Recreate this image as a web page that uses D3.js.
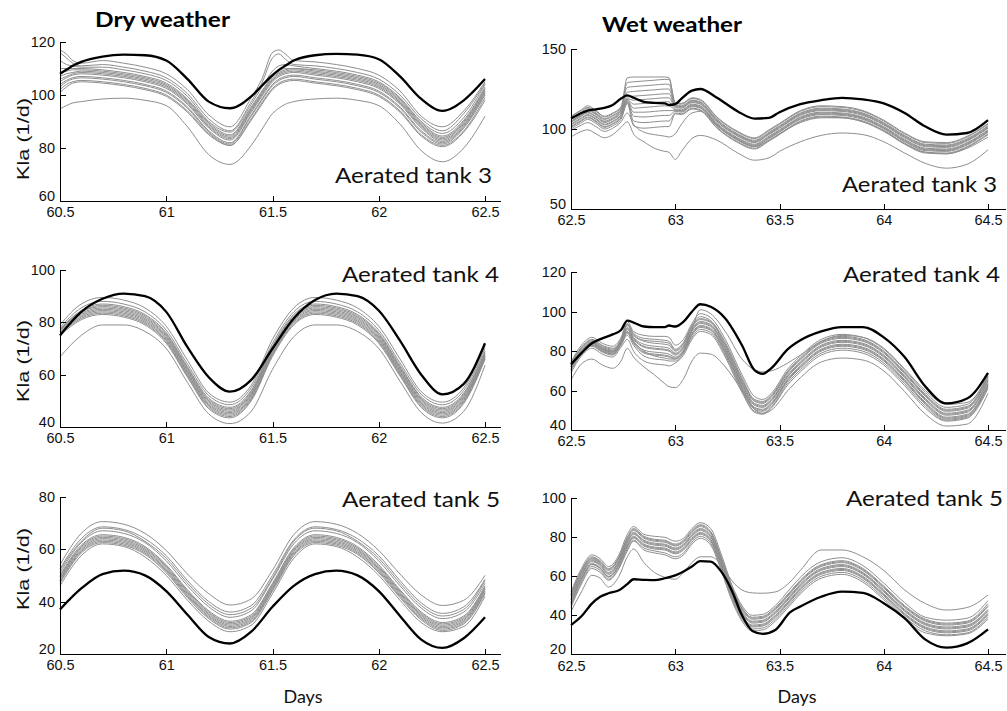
<!DOCTYPE html>
<html>
<head>
<meta charset="utf-8">
<script src="https://cdnjs.cloudflare.com/ajax/libs/d3/7.8.5/d3.min.js"></script>
<style>
body { margin: 0; background: #fff; }
</style>
</head>
<body>
<div class="chart"></div>
<script>
// ---------- data : days (x) and Kla values (1/d) ----------

// dry weather, x values
var dryT3Days = [60.5, 60.53, 60.56, 60.6, 60.7, 60.8, 60.9, 61.0, 61.1, 61.2, 61.3, 61.4, 61.45, 61.5, 61.53, 61.56, 61.6, 61.7, 61.8, 61.9, 62.0, 62.1, 62.2, 62.3, 62.4, 62.5];
var dryDays = [60.5, 60.6, 60.7, 60.8, 60.9, 61.0, 61.1, 61.2, 61.3, 61.4, 61.5, 61.6, 61.7, 61.8, 61.9, 62.0, 62.1, 62.2, 62.3, 62.4, 62.5];

// dry weather, tank 3
var dryT3Measured = [108, 109.5, 111, 112.5, 114.5, 115.2, 115, 113, 106, 97.5, 95, 99.5, 103.5, 107.5, 109.5, 111, 113, 115, 115.5, 115.2, 113.5, 107, 98.5, 94, 98, 106];
var dryT3Sim = [
  [117, 115.5, 113, 112, 113, 112, 110.5, 108, 102, 92.5, 88, 99, 106, 116, 117, 115.5, 113, 112.5, 111.5, 110, 107.5, 101.5, 92, 88, 94, 105],
  [116, 114, 112, 111, 111.5, 110.5, 109, 106.5, 100.5, 91, 86.5, 97.5, 104.5, 114, 115.5, 113.5, 111.5, 111, 110, 108.5, 106, 100, 91, 86.5, 93, 104.5],
  [113, 111.5, 111, 110.5, 110.5, 109.5, 108, 105.5, 99.5, 90, 86, 96.5, 103, 109, 111, 111.5, 111, 110, 109, 107.5, 105, 99, 90, 85.5, 91.5, 104],
  [110, 110, 110, 110, 109.5, 108.5, 107, 104.5, 98.5, 89.5, 85, 95.5, 101.5, 107, 109, 110, 110, 109.5, 108.5, 107, 104.5, 98.5, 89.5, 84.5, 90.5, 103],
  [108.5, 109, 109.5, 109.5, 109, 108, 106.5, 104, 98, 89, 84.5, 95, 101, 106.5, 108.5, 109.5, 110, 109, 108, 106.5, 104, 98, 89, 84, 90, 102.5],
  [107, 108, 108.5, 109, 108.5, 107.5, 106, 103.5, 97.5, 88.5, 84, 94.5, 100.5, 106, 108, 109, 109.5, 108.5, 107.5, 106, 103.5, 97.5, 88.5, 83.5, 89.5, 102],
  [106, 107, 108, 108.5, 108, 107, 105.5, 103, 97, 88, 83.5, 94, 100, 105.5, 107.5, 108.5, 109, 108, 107, 105.5, 103, 97, 88, 83, 89, 101.5],
  [105, 106.5, 107.5, 108, 107.5, 106.5, 105, 102.5, 96.5, 87.5, 83, 93.5, 99.5, 105, 107, 108, 108.5, 107.5, 106.5, 105, 102.5, 96.5, 87.5, 82.5, 88.5, 101],
  [104, 105.5, 106.5, 107, 106.5, 105.5, 104, 101.5, 95.5, 86.5, 82, 92.5, 98.5, 104, 106, 107, 107.5, 106.5, 105.5, 104, 101.5, 95.5, 86.5, 82, 88, 100.5],
  [103, 105, 106, 106.5, 106, 105, 103.5, 101, 95, 86, 81.5, 92, 98, 103.5, 105.5, 106.5, 107, 106, 105, 103.5, 101, 95, 86, 81.5, 87.5, 100],
  [102, 104, 105, 105.5, 105, 104, 102.5, 100, 94, 85.5, 81, 91, 97, 102.5, 104.5, 105.5, 106, 105, 104, 102.5, 100, 94, 85, 81, 86.5, 99],
  [101, 103, 104.5, 105, 104.5, 103.5, 102, 99.5, 93.5, 85, 81, 90.5, 96.5, 102, 104, 105, 105.5, 104.5, 103.5, 102, 99.5, 93.5, 84.5, 80.5, 86, 98],
  [94.7, 96, 97, 97.5, 98.5, 98.8, 98, 96, 88, 77.5, 73.8, 81, 87, 93, 95, 96.5, 97.5, 98.5, 98.8, 98, 96, 89, 79, 74.8, 80, 92]
];

// dry weather, tank 4
var dryT4Measured = [75, 84, 89, 91, 90, 84, 70.5, 59, 53.5, 58, 70, 81.5, 88.5, 91, 90, 84.5, 73, 60, 52.5, 56.5, 72];
var dryT4Sim = [
  [79, 87, 89.5, 88.5, 85.5, 78.5, 65.5, 53, 49.5, 56, 73.5, 85.5, 89.5, 88.5, 85.5, 78.5, 66, 53.5, 49.5, 55, 71],
  [78, 85.5, 88, 87, 84, 77, 64, 52, 48.5, 55, 72, 84, 88, 87, 84, 77, 64.5, 52.5, 48.5, 54, 70],
  [77.5, 84.5, 87, 86, 83, 76, 63, 51, 47.5, 54, 71, 83, 87, 86, 83, 76, 63.5, 51.5, 47.5, 53, 69],
  [77, 84, 86.5, 85.5, 82.5, 75.5, 62.5, 50.5, 47, 53.5, 70.5, 82.5, 86.5, 85.5, 82.5, 75.5, 63, 51, 47, 52.5, 68.5],
  [77, 84, 86, 85, 82, 75, 62, 50, 46.5, 53, 70, 82, 86, 85, 82, 75, 62.5, 50.5, 46.5, 52, 68],
  [76.5, 83.5, 85.5, 84.5, 81.5, 74.5, 61.5, 49.5, 46, 52.5, 69.5, 81.5, 85.5, 84.5, 81.5, 74.5, 62, 50, 46, 51.5, 67.5],
  [76.5, 83, 85, 84, 81, 74, 61, 49, 45.5, 52, 69, 81, 85, 84, 81, 74, 61.5, 49.5, 45.5, 51, 67],
  [76, 82.5, 84.5, 83.5, 80.5, 73.5, 60.5, 48.5, 45, 51.5, 68.5, 80.5, 84.5, 83.5, 80.5, 73.5, 61, 49, 45, 50.5, 67],
  [76, 82, 84, 83, 80, 73, 60, 48, 44.5, 51, 68, 80, 84, 83, 80, 73, 60.5, 48.5, 44.5, 50, 66.5],
  [75.5, 81.5, 83.5, 82.5, 79.5, 72.5, 59.5, 47.5, 44, 50.5, 67.5, 79.5, 83.5, 82.5, 79.5, 72.5, 60, 48, 44, 49.5, 66],
  [75, 81, 83, 82, 79, 72, 59, 47, 43.5, 50, 67, 79, 83, 82, 79, 72, 59.5, 47.5, 43.5, 49, 66],
  [66.8, 75, 79, 79, 76.5, 70, 57, 45, 41.3, 46, 62, 74.5, 79, 79, 76.5, 70, 57.5, 45.5, 41.5, 46, 63.6]
];

// dry weather, tank 5
var dryT5Measured = [37, 45, 50.5, 51.8, 50, 44, 35, 26.5, 24, 28.5, 38, 46, 50.5, 51.8, 50, 44, 34.5, 25.5, 22.3, 26, 34];
var dryT5Sim = [
  [54, 66, 70.5, 69.5, 66, 59.5, 50.5, 43, 38.7, 41, 52, 65.5, 70.5, 69.5, 66, 59.5, 50.5, 42.5, 38.5, 40.5, 50],
  [52.5, 64, 68.5, 67.5, 64, 57.5, 48, 40, 36, 38.5, 50, 63.5, 68.5, 67.5, 64, 57.5, 48, 39.5, 35.5, 38, 48.5],
  [52, 63, 68, 67, 63, 56.5, 47, 39, 35, 37.5, 49, 63, 68, 67, 63, 56.5, 47, 38.5, 34.5, 37, 48],
  [51, 62.5, 67, 66, 62.5, 55.5, 46, 38, 34, 36.5, 48.5, 62, 67, 66, 62.5, 55.5, 46, 37.5, 33.5, 36, 47],
  [50, 61.5, 65.5, 64.5, 61, 54, 44.5, 36.5, 32.5, 35, 47, 60.5, 65.5, 64.5, 61, 54, 44.5, 36, 32, 34.5, 46],
  [49.5, 61, 65, 64, 60.5, 53.5, 44, 36, 32, 34.5, 46.5, 60, 65, 64, 60.5, 53.5, 44, 35.5, 31.5, 34, 45.5],
  [49, 60.5, 64.5, 63.5, 60, 53, 43.5, 35.5, 31.5, 34, 46, 59.5, 64.5, 63.5, 60, 53, 43.5, 35, 31, 33.5, 45],
  [48.5, 60, 64, 63, 59.5, 52.5, 43, 35, 31, 33.5, 45.5, 59, 64, 63, 59.5, 52.5, 43, 34.5, 30.5, 33, 44.5],
  [48, 59.5, 63.5, 62.5, 59, 52, 42.5, 34.5, 30.5, 33, 45, 58.5, 63.5, 62.5, 59, 52, 42.5, 34, 30, 32.5, 44],
  [47.5, 59, 63, 62, 58.5, 51.5, 42, 34, 30, 32.5, 44.5, 58, 63, 62, 58.5, 51.5, 42, 33.5, 29.5, 32, 43.5],
  [47, 58.5, 62.5, 61.5, 58, 51, 41.5, 33.5, 29.5, 32, 44, 57.5, 62.5, 61.5, 58, 51, 41.5, 33, 29, 31.5, 43],
  [46, 57.5, 62, 61, 57, 50, 40.5, 32.5, 28.5, 31, 43, 56.5, 62, 61, 57, 50, 40.5, 32, 28.5, 30.5, 42]
];

// wet weather, tank 3
var wetT3Days = [62.5, 62.55, 62.58, 62.62, 62.66, 62.7, 62.74, 62.77, 62.8, 62.85, 62.9, 62.95, 62.97, 63.0, 63.03, 63.08, 63.12, 63.2, 63.3, 63.38, 63.45, 63.5, 63.6, 63.7, 63.8, 63.9, 64.0, 64.1, 64.2, 64.3, 64.4, 64.5];
var wetT3Measured = [106.5, 110, 111.5, 112.3, 113.2, 115, 119, 121, 119.5, 117, 116.3, 116, 115, 115.5, 119, 124, 125, 119.5, 111, 106.5, 107, 110.5, 115.5, 118, 119.5, 118.5, 116, 110, 101.5, 96.5, 97.5, 105.5];
var wetT3Sim = [
  [108, 112, 114.5, 111.5, 108, 110, 114, 132, 132.5, 132.5, 132.5, 132.5, 132, 116.5, 116, 119.5, 118.5, 107.5, 98.5, 94.5, 99.5, 103.5, 111.5, 114.5, 114, 111.5, 105.5, 97.5, 92, 91.5, 95.5, 103.5],
  [107.5, 111.5, 113.5, 111, 107.5, 109.5, 113.5, 129, 129.5, 130, 130.5, 131, 131, 116, 115.5, 119, 118, 107, 98, 94, 99, 103, 111, 114, 113.5, 111, 105, 97, 91.5, 91, 95, 103],
  [106.5, 110.5, 113, 110, 106.5, 108.5, 112.5, 126, 126.5, 127, 127.5, 128, 128, 115, 114.5, 118, 117, 106, 97, 93, 98, 102, 110, 113, 112.5, 110, 104, 96, 90.5, 90, 94, 102],
  [106, 110, 112, 109.5, 106, 108, 112, 123, 123.5, 124, 124.5, 125, 125, 114.5, 114, 117.5, 116.5, 105.5, 96.5, 92.5, 97.5, 101.5, 109.5, 112.5, 112, 109.5, 103.5, 95.5, 90, 89.5, 93.5, 101.5],
  [105, 109, 111.5, 109, 105, 107, 111.5, 120, 120.5, 121, 121.5, 122, 122, 114, 113.5, 117, 116, 105, 96, 92, 97, 101, 109, 112, 111.5, 109, 103, 95, 89.5, 89, 93, 101],
  [104.5, 108.5, 110.5, 108, 104.5, 106.5, 110.5, 119, 118, 118.5, 119, 119.5, 119.5, 113.5, 113, 116.5, 115.5, 104.5, 95.5, 91.5, 96.5, 100.5, 108.5, 111.5, 111, 108.5, 102.5, 94.5, 89, 88.5, 92.5, 100.5],
  [104, 108, 110, 107.5, 104, 106, 110, 118.5, 115.5, 116, 116.5, 117, 117, 112.5, 112, 115.5, 114.5, 103.5, 94.5, 90.5, 95.5, 99.5, 107.5, 110.5, 110, 107.5, 101.5, 93.5, 88, 87.5, 91.5, 99.5],
  [103, 107, 109, 106.5, 103, 105, 109, 118, 113, 113.5, 114, 114.5, 114.5, 112, 111.5, 115, 114, 103, 94, 90, 95, 99, 107, 110, 109.5, 107, 101, 93, 87.5, 87, 91, 99],
  [102.5, 106.5, 108.5, 106, 102.5, 104.5, 108.5, 117.5, 110.5, 110.5, 111, 111.5, 111.5, 111.5, 111, 114.5, 113.5, 102.5, 93.5, 89.5, 94.5, 98.5, 106.5, 109.5, 109, 106.5, 100.5, 92.5, 87, 86.5, 90.5, 98.5],
  [101.5, 105.5, 107.5, 105, 101.5, 103.5, 107.5, 117, 108, 107.5, 108, 108.5, 108.5, 111, 110.5, 114, 113, 102, 93, 89, 94, 98, 106, 109, 108.5, 106, 100, 92, 86.5, 86, 90, 98],
  [101, 105, 107, 104.5, 101, 103, 107, 116.5, 105, 104, 104.5, 105, 105, 110, 109.5, 113, 112, 101, 92, 88, 93, 97, 105, 108, 107.5, 105, 99, 91, 85.5, 85, 89, 97],
  [100, 104, 106, 103.5, 100, 102, 106, 116, 102, 100.5, 101, 101.5, 101.5, 109.5, 109, 112.5, 111.5, 100.5, 91.5, 87.5, 92.5, 96.5, 104.5, 107.5, 107, 104.5, 98.5, 90.5, 85, 84.5, 88.5, 96.5],
  [99, 102.5, 104, 101.5, 98.5, 100.5, 104.5, 110, 103, 98, 96.5, 95.5, 95, 97, 103, 110, 111, 102, 93, 89, 93, 97, 104, 107, 107, 104.5, 99, 91, 85.5, 84.5, 88, 95],
  [95, 98.5, 99.5, 97, 94.5, 96.5, 101, 104.5, 97, 92, 88, 86, 85.5, 81, 86, 94, 96, 93, 85, 80.5, 82, 86, 92, 96, 97.5, 96.5, 92, 85, 78.5, 75.5, 78, 87]
];

// wet weather, tank 4
var wetT4Days = [62.5, 62.55, 62.6, 62.65, 62.7, 62.74, 62.77, 62.8, 62.85, 62.9, 62.95, 62.97, 63.0, 63.04, 63.08, 63.12, 63.17, 63.24, 63.32, 63.38, 63.42, 63.46, 63.54, 63.6, 63.7, 63.8, 63.9, 64.0, 64.1, 64.2, 64.3, 64.4, 64.5];
var wetT4Measured = [73.3, 79, 84, 86.5, 88.5, 90.7, 95.5, 94.5, 92.5, 92.2, 92.2, 93, 92.5, 95, 100, 103.8, 102.5, 96.6, 83, 70.4, 68.5, 71.3, 81, 85.5, 90, 92.2, 92.2, 87, 77, 62, 53.5, 56, 69];
var wetT4Sim = [
  [74.5, 83, 87, 84, 82.5, 87, 95, 90, 88, 87.5, 87.5, 87, 83, 86, 94, 99, 97, 86, 68, 57, 55.5, 58.5, 71, 77.5, 86, 88.5, 87, 81, 70.5, 59, 51.5, 53, 68.5],
  [74, 82, 86, 83, 81.5, 86, 94, 89, 86.5, 86, 85.5, 85, 81, 84.5, 93, 97.5, 95.5, 84.5, 66.5, 55.5, 54.5, 57.5, 70, 76.5, 85, 87.5, 86, 80, 69.5, 58, 50.5, 52, 67.5],
  [73.5, 81.5, 85.5, 82.5, 81, 85.5, 93.5, 88.5, 85.5, 85, 84.5, 84, 80.5, 84, 92.5, 96.5, 95, 83.5, 65.5, 55, 54, 57, 69.5, 76, 84.5, 87, 85.5, 79.5, 69, 57.5, 50, 51.5, 67],
  [73, 81.5, 85, 82, 80.5, 85.5, 93, 88, 85, 84, 83.5, 83, 80, 83.5, 92, 96, 94.5, 83, 65, 54.5, 53.5, 56.5, 69, 75.5, 84, 86.5, 85, 79, 68.5, 57, 49.5, 51, 66.5],
  [72.5, 80.5, 84.5, 81.5, 80, 85, 92, 87, 83.5, 82.5, 82, 81.5, 79, 82.5, 91, 95, 93.5, 82, 64, 53.5, 52.5, 55.5, 68, 74.5, 83, 85.5, 84, 78, 67.5, 56, 48.5, 50, 65.5],
  [72, 80.5, 84, 81, 79.5, 84.5, 91.5, 86.5, 82.5, 81.5, 81, 80.5, 78.5, 82, 90.5, 94.5, 93, 81.5, 63.5, 53, 52, 55, 67.5, 74, 82.5, 85, 83.5, 77.5, 67, 55.5, 48, 49.5, 65],
  [72, 80, 84, 81, 79.5, 84.5, 91, 86, 82, 81, 80.5, 80, 78, 81.5, 90, 94, 92.5, 81, 63, 52.5, 51.5, 54.5, 67, 73.5, 82, 84.5, 83, 77, 66.5, 55, 47.5, 49, 64.5],
  [71, 79.5, 83.5, 80.5, 79, 84, 90, 85, 80.5, 79.5, 79, 78.5, 77, 80.5, 89, 93, 91.5, 80, 62, 51.5, 50.5, 53.5, 66, 72.5, 81, 83.5, 82, 76, 65.5, 54, 46.5, 48, 63.5],
  [70.5, 79, 83, 80, 78.5, 83.5, 89.5, 84.5, 79.5, 78.5, 78, 77.5, 76.5, 80, 88.5, 92.5, 91, 79.5, 61.5, 51, 50, 53, 65.5, 72, 80.5, 83, 81.5, 75.5, 65, 53.5, 46, 47.5, 63],
  [70.5, 79, 83, 80, 78.5, 83.5, 89, 84, 79, 78, 77.5, 77, 76, 79.5, 88, 92, 90.5, 79, 61, 50.5, 49.5, 52.5, 65, 71.5, 80, 82.5, 81, 75, 64.5, 53, 45.5, 47, 62.5],
  [70, 78.5, 82.5, 79.5, 78, 83, 88, 83, 77.5, 76, 75.5, 75, 75, 79, 87, 91, 89.5, 78, 60, 49.5, 48.5, 51.5, 64, 70.5, 79, 81.5, 80, 74, 63.5, 52, 45, 46.5, 62],
  [69, 77.5, 81.5, 78.5, 77, 82, 86, 80, 75, 73.5, 73, 72.5, 74, 78, 86, 90, 88.5, 77, 59, 49, 48, 51, 63, 69.5, 78, 80.5, 79, 73, 62.5, 51, 44.5, 46, 61],
  [72, 80, 84.5, 81.5, 80, 84.5, 90, 85, 80, 77.5, 76.5, 76, 76, 80, 91, 101, 99, 90, 76, 70.5, 69.5, 70, 74, 78, 85, 88, 87, 81.5, 71, 60, 53, 54, 67],
  [65.3, 73.5, 76, 73, 71.3, 75, 81.4, 77, 72, 68, 63.5, 62, 61.5, 66, 75, 79, 78.5, 72, 60, 50.5, 48.4, 50, 60, 66.5, 74.5, 76.5, 75.5, 70, 59.5, 48, 42, 43, 58.6]
];

// wet weather, tank 5
var wetT5Days = [62.5, 62.55, 62.6, 62.64, 62.68, 62.73, 62.77, 62.8, 62.85, 62.9, 62.95, 63.0, 63.04, 63.08, 63.12, 63.17, 63.22, 63.27, 63.32, 63.37, 63.42, 63.48, 63.55, 63.6, 63.7, 63.8, 63.9, 64.0, 64.1, 64.2, 64.3, 64.4, 64.5];
var wetT5Measured = [35, 39.5, 46, 49.5, 51.3, 52.8, 56, 58.5, 58.2, 58, 59, 60.5, 62.5, 65, 67.8, 67.5, 62.5, 53, 40, 32, 30.5, 32.5, 41.5, 44.5, 49.5, 52.1, 51.5, 46.2, 38.5, 27.5, 23.4, 25.6, 32.8];
var wetT5Sim = [
  [52, 64, 71, 69, 65, 71, 81.5, 85.5, 81.5, 80.5, 80, 78, 79.5, 84.5, 87.5, 84.5, 71.5, 56, 45, 40, 40.5, 45, 53.5, 59.5, 67.5, 69.5, 65.5, 56.5, 46.5, 39, 37.5, 38.5, 47.5],
  [51, 63, 70, 68, 64, 70, 80, 84.5, 80.5, 79, 78.5, 76.5, 78.5, 83.5, 86.5, 83, 70, 55, 44, 39, 39.5, 44, 52, 58, 66, 68, 64, 55, 45, 38, 36, 37, 46],
  [50.5, 62.5, 69.5, 67.5, 63.5, 69.5, 79.5, 84, 80, 78.5, 78, 76, 78, 83, 86, 82.5, 69.5, 54.5, 43.5, 38.5, 39, 43.5, 51.5, 57.5, 65.5, 67.5, 63.5, 54.5, 44.5, 37.5, 35.5, 36.5, 45],
  [50, 62, 69, 67, 63, 69, 79, 83.5, 79.5, 78, 77.5, 75.5, 77.5, 82.5, 85.5, 82, 69, 54, 43, 38, 38.5, 43, 51, 57, 65, 67, 63, 54, 44, 37, 35, 36, 44.5],
  [49, 61, 68.5, 66.5, 62, 68, 78, 82.5, 78.5, 77, 76.5, 74.5, 76.5, 81.5, 84.5, 81, 68, 53, 42, 37, 37.5, 42, 50, 56, 64, 66, 62, 53, 43, 36, 34, 35, 43],
  [48.5, 60.5, 68, 66, 61.5, 67.5, 77.5, 82, 78, 76.5, 76, 74, 76, 81, 84, 80.5, 67.5, 52.5, 41.5, 36.5, 37, 41.5, 49.5, 55.5, 63.5, 65.5, 61.5, 52.5, 42.5, 35.5, 33.5, 34.5, 42.5],
  [48, 60, 67.5, 65.5, 61, 67, 77, 81.5, 77.5, 76, 75.5, 73.5, 75.5, 80.5, 83.5, 80, 67, 52, 41, 36, 36.5, 41, 49, 55, 63, 65, 61, 52, 42, 35, 33, 34, 42],
  [47, 59, 66.5, 64.5, 60, 66, 76, 80.5, 76.5, 75, 74.5, 72.5, 74.5, 79.5, 82.5, 79, 66, 51, 40, 35, 35.5, 40, 48, 54, 62, 64, 60, 51, 41, 34, 32, 33, 41],
  [46.5, 58.5, 66.2, 64.2, 59.8, 65.8, 75.5, 80, 76, 74.5, 74, 72, 74, 79, 82, 78.5, 65.5, 50.5, 39.5, 34.5, 35, 39.5, 47.5, 53.5, 61.5, 63.5, 59.5, 50.5, 40.5, 33.5, 31.5, 32.5, 40.5],
  [46, 58, 66, 64, 59.5, 65.5, 75, 79.5, 75.5, 74, 73.5, 71.5, 73.5, 78.5, 81.5, 78, 65, 50, 39, 34, 34.5, 39, 47, 53, 61, 63, 59, 50, 40, 33, 31, 32, 40],
  [45, 57, 65, 63, 58.5, 64.5, 74, 78.5, 74.5, 73, 72, 70, 72, 77.5, 80.5, 77, 64, 49, 38, 33, 33.5, 38, 46, 52, 60, 62, 58, 49, 39, 32, 30, 31, 39],
  [44, 56, 64, 62, 58, 64, 73, 78, 73.5, 72, 71, 69, 71, 76.5, 79.5, 76, 63, 48, 37, 32, 32.5, 37, 45, 51, 59, 61, 57, 48, 38, 31, 29.5, 30.5, 38],
  [42, 52, 60.5, 59, 54.5, 60, 70, 74, 67, 62, 59.5, 58.5, 62, 67, 70, 70, 66, 58, 53, 51.5, 51.3, 52, 57, 63, 73.5, 73.5, 70, 63, 53, 46, 42.7, 44, 50.4]
];

// tick labels
var dryTicks = [60.5, 61, 61.5, 62, 62.5];
var wetTicks = [62.5, 63, 63.5, 64, 64.5];
var yTicksT3Dry = [60, 80, 100, 120];
var yTicksT3Wet = [50, 100, 150];
var yTicksT4Dry = [40, 60, 80, 100];
var yTicksT4Wet = [40, 60, 80, 100, 120];
var yTicksT5Dry = [20, 40, 60, 80];
var yTicksT5Wet = [20, 40, 60, 80, 100];

// ---------- layout ----------
var W = 1007, H = 711;
var leftX = [60, 500], rightX = [571, 1005];
var dryDomain = [60.5, 62.5 + 15 / 212.6];
var wetDomain = [62.5, 64.5 + 17 / 208.6];

var panels = [
  {days: dryT3Days, meas: dryT3Measured, sim: dryT3Sim, xr: leftX, xd: dryDomain, xt: dryTicks,
   yr: [201, 42], yd: [60, 120], yt: yTicksT3Dry, title: "Aerated tank 3", tx: 335, ty: 183, tl: 157, ylab: 139},
  {days: wetT3Days, meas: wetT3Measured, sim: wetT3Sim, xr: rightX, xd: wetDomain, xt: wetTicks,
   yr: [209, 49], yd: [50, 150], yt: yTicksT3Wet, title: "Aerated tank 3", tx: 842, ty: 192, tl: 155},
  {days: dryDays, meas: dryT4Measured, sim: dryT4Sim, xr: leftX, xd: dryDomain, xt: dryTicks,
   yr: [427, 270], yd: [40, 100], yt: yTicksT4Dry, title: "Aerated tank 4", tx: 342, ty: 282, tl: 157, ylab: 361},
  {days: wetT4Days, meas: wetT4Measured, sim: wetT4Sim, xr: rightX, xd: wetDomain, xt: wetTicks,
   yr: [430, 272.3], yd: [40, 120], yt: yTicksT4Wet, title: "Aerated tank 4", tx: 843, ty: 282, tl: 157},
  {days: dryDays, meas: dryT5Measured, sim: dryT5Sim, xr: leftX, xd: dryDomain, xt: dryTicks,
   yr: [654, 496.7], yd: [20, 80], yt: yTicksT5Dry, title: "Aerated tank 5", tx: 342, ty: 507, tl: 158, ylab: 569},
  {days: wetT5Days, meas: wetT5Measured, sim: wetT5Sim, xr: rightX, xd: wetDomain, xt: wetTicks,
   yr: [654.3, 498.3], yd: [20, 100], yt: yTicksT5Wet, title: "Aerated tank 5", tx: 846, ty: 506, tl: 157}
];

var svg = d3.select(".chart").append("svg")
  .attr("width", W)
  .attr("height", H)
  .style("display", "block");

function drawPanel(p) {
  var x = d3.scaleLinear().domain(p.xd).range(p.xr);
  var y = d3.scaleLinear().domain(p.yd).range(p.yr);
  var g = svg.append("g");

  var line = d3.line()
    .x(function (d, i) { return x(p.days[i]); })
    .y(function (d) { return y(d); })
    .curve(d3.curveMonotoneX);

  // simulations (grey), then measured (black) on top
  g.selectAll(".sim")
    .data(p.sim)
    .enter().append("path")
    .attr("class", "sim")
    .attr("d", line)
    .attr("fill", "none")
    .attr("stroke", "#8e8e8e")
    .attr("stroke-width", 1);

  g.append("path")
    .attr("d", line(p.meas))
    .attr("fill", "none")
    .attr("stroke", "#000")
    .attr("stroke-width", 2.3)
    .attr("stroke-linejoin", "round");

  // axes, MATLAB style: ticks inside, no box
  var xa = g.append("g")
    .attr("transform", "translate(0," + p.yr[0] + ")")
    .call(d3.axisBottom(x).tickValues(p.xt).tickSizeInner(-5).tickSizeOuter(0).tickPadding(6)
      .tickFormat(function (d) { return d; }));
  var ya = g.append("g")
    .attr("transform", "translate(" + p.xr[0] + ",0)")
    .call(d3.axisLeft(y).tickValues(p.yt).tickSizeInner(-6).tickSizeOuter(0).tickPadding(5)
      .tickFormat(function (d) { return d; }));

  [xa, ya].forEach(function (a) {
    a.attr("font-family", "'Liberation Sans', Arial, sans-serif")
      .attr("font-size", 14.5);
    a.selectAll("path, line").attr("stroke", "#000").attr("shape-rendering", "crispEdges");
    a.selectAll("text").attr("fill", "#111");
  });

  // lowest y label sits just above the x labels, as in the figure
  ya.selectAll(".tick text")
    .filter(function (d) { return d === p.yd[0]; })
    .attr("dy", "-0.05em");

  // panel title
  g.append("text")
    .attr("x", p.tx)
    .attr("y", p.ty)
    .attr("textLength", p.tl)
    .attr("lengthAdjust", "spacingAndGlyphs")
    .style("font-family", "Lato, 'Open Sans', sans-serif")
    .style("font-size", "22px")
    .attr("fill", "#111")
    .text(p.title);

  if (p.ylab) {
    g.append("text")
      .attr("transform", "translate(23," + p.ylab + ") rotate(-90)")
      .attr("text-anchor", "middle")
      .attr("dy", "0.35em")
      .attr("textLength", 82)
      .attr("lengthAdjust", "spacingAndGlyphs")
      .style("font-family", "'Liberation Sans', Arial, sans-serif")
      .style("font-size", "17px")
      .attr("fill", "#111")
      .text("Kla (1/d)");
  }
}

panels.forEach(drawPanel);

// column headings and x labels
svg.append("text")
  .attr("x", 95).attr("y", 27)
  .attr("textLength", 135).attr("lengthAdjust", "spacingAndGlyphs")
  .style("font-family", "Lato, 'Open Sans', sans-serif")
  .style("font-size", "20px").style("font-weight", "bold")
  .text("Dry weather");

svg.append("text")
  .attr("x", 602).attr("y", 32)
  .attr("textLength", 140).attr("lengthAdjust", "spacingAndGlyphs")
  .style("font-family", "Lato, 'Open Sans', sans-serif")
  .style("font-size", "20px").style("font-weight", "bold")
  .text("Wet weather");

[303, 797].forEach(function (cx) {
  svg.append("text")
    .attr("x", cx).attr("y", 703)
    .attr("text-anchor", "middle")
    .style("font-family", "Lato, 'Open Sans', sans-serif")
    .style("font-size", "18px")
    .attr("fill", "#111")
    .text("Days");
});
</script>
</body>
</html>
